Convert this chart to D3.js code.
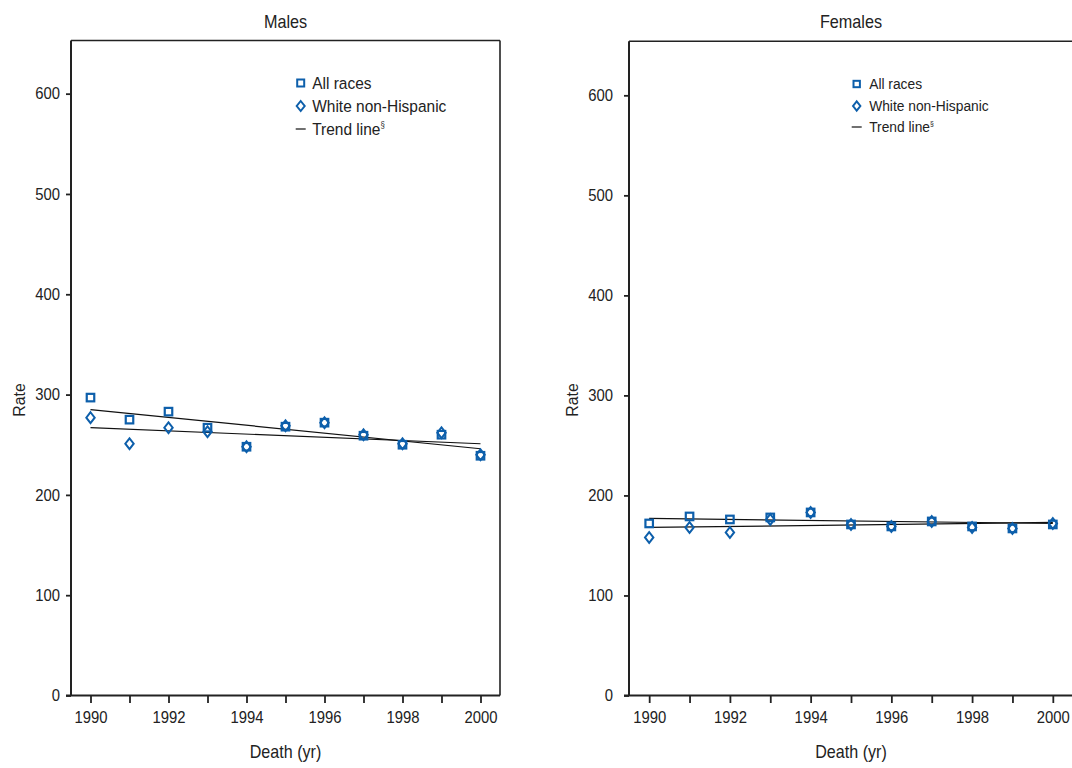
<!DOCTYPE html>
<html><head><meta charset="utf-8">
<script src="https://cdn.jsdelivr.net/npm/d3@7"></script>
<style>
body{margin:0;background:#fff;}
svg text{font-family:"Liberation Sans",Arial,Helvetica,sans-serif;fill:#222;}
</style></head>
<body><svg id="c" width="1072" height="768"></svg>
<script>
const years = [1990,1991,1992,1993,1994,1995,1996,1997,1998,1999,2000];
const yTicks = [0,100,200,300,400,500,600];
const xTickLabels = [1990,1992,1994,1996,1998,2000];

const maleAllRaces = [297,275,283,267,248,268,272,259,250,260,239];
const maleWhiteNH  = [277,251,267,263,248,269,272,260,251,262,240];
const maleTrendAll = [[1990,285],[2000,246]];
const maleTrendWhite = [[1990,267],[2000,251]];

const femaleAllRaces = [172,179,176,178,183,171,169,174,169,167,171];
const femaleWhiteNH  = [158,168,163,176,183,171,169,174,168,167,172];
const femaleTrendAll = [[1990,177],[2000,172]];
const femaleTrendWhite = [[1990,168],[2000,173]];

const legendLabels = ["All races","White non-Hispanic","Trend line"];

const blue = "#0d5fab";
const svg = d3.select("#c");

const panels = [
  {title:"Males", left:71, right:500, top:40.5, ymax:653, all:maleAllRaces, white:maleWhiteNH,
   tAll:maleTrendAll, tWhite:maleTrendWhite, legX:300.7, legFont:17, legScale:0.91, legY:[83,106,129], legTextDx:11.5, rateX:25, tickDx:0},
  {title:"Females", left:629, right:1073, top:41.3, ymax:654, all:femaleAllRaces, white:femaleWhiteNH,
   tAll:femaleTrendAll, tWhite:femaleTrendWhite, legX:856.7, legFont:15.5, legScale:0.89, legY:[84,106,127], legTextDx:12.5, rateX:578, tickDx:-5}
];

const bottom = 695.5;
const TS = 0.9; // horizontal condensation of tick labels

function label(g, x, y, size, sx, text, anchor, rot) {
  return g.append("text")
    .attr("transform", `translate(${x},${y})` + (rot ? ` rotate(${rot})` : "") + ` scale(${sx},1)`)
    .attr("text-anchor", anchor).attr("font-size", size).text(text);
}

panels.forEach(p => {
  const x = d3.scaleLinear().domain([1989.5,2000.5]).range([p.left,p.right]);
  const y = d3.scaleLinear().domain([0,p.ymax]).range([bottom,p.top]);
  const g = svg.append("g");

  g.append("line").attr("x1",p.left).attr("x2",p.right).attr("y1",p.top).attr("y2",p.top)
    .attr("stroke","#222").attr("stroke-width",1.6);
  g.append("line").attr("x1",p.right).attr("x2",p.right).attr("y1",p.top).attr("y2",bottom)
    .attr("stroke","#222").attr("stroke-width",1.6);

  const ya = g.append("g").attr("transform",`translate(${p.left},0)`)
    .call(d3.axisLeft(y).tickValues(yTicks).tickSize(5).tickPadding(6).tickFormat(d3.format("d")));
  ya.select(".domain").attr("stroke","#222").attr("stroke-width",2).attr("d",`M0,${p.top}V${bottom}`);
  ya.selectAll(".tick line").attr("stroke","#222").attr("stroke-width",1.8);
  ya.selectAll(".tick text").attr("font-size",16.5).attr("fill","#222")
    .attr("x", (-11 + p.tickDx)/TS).attr("transform",`scale(${TS},1)`);

  const xa = g.append("g").attr("transform",`translate(0,${bottom})`)
    .call(d3.axisBottom(x).tickValues(years).tickSize(7.5).tickPadding(8)
      .tickFormat(d => xTickLabels.includes(d) ? String(d) : ""));
  xa.select(".domain").attr("stroke","#222").attr("stroke-width",2).attr("d",`M${p.left-5},0H${p.right}`);
  xa.selectAll(".tick line").attr("stroke","#222").attr("stroke-width",1.8);
  xa.selectAll(".tick text").attr("font-size",16.5).attr("fill","#222").attr("transform",`scale(${TS},1)`);

  const cx = (p.left+p.right)/2;
  label(g, cx, 27.5, 18, 0.9, p.title, "middle");
  label(g, cx, 758, 17.5, 0.92, "Death (yr)", "middle");
  label(g, p.rateX, 400, 16.5, 0.96, "Rate", "middle", -90);

  const line = d3.line().x(d=>x(d[0])).y(d=>y(d[1]));
  [p.tAll,p.tWhite].forEach(t => {
    g.append("path").attr("d",line(t)).attr("fill","none").attr("stroke","#111").attr("stroke-width",1.2);
  });

  const sq = 7.5, dw = 4.2, dh = 5.4;
  g.selectAll(".sq").data(years).enter().append("rect")
    .attr("x",(d)=>x(d)-sq/2).attr("y",(d,i)=>y(p.all[i])-sq/2)
    .attr("width",sq).attr("height",sq).attr("fill","none").attr("stroke",blue).attr("stroke-width",2.2);
  g.selectAll(".dm").data(years).enter().append("path")
    .attr("d",(d,i)=>{const cx=x(d), cy=y(p.white[i]);
      return `M${cx},${cy-dh}L${cx+dw},${cy}L${cx},${cy+dh}L${cx-dw},${cy}Z`;})
    .attr("fill","none").attr("stroke",blue).attr("stroke-width",2);

  const lx = p.legX;
  const ls = p.legFont/17;
  g.append("rect").attr("x",lx-3.5*ls).attr("y",p.legY[0]-3.5*ls).attr("width",7*ls).attr("height",7*ls)
    .attr("fill","none").attr("stroke",blue).attr("stroke-width",2);
  g.append("path").attr("d",`M${lx},${p.legY[1]-5*ls}L${lx+4*ls},${p.legY[1]}L${lx},${p.legY[1]+5*ls}L${lx-4*ls},${p.legY[1]}Z`)
    .attr("fill","none").attr("stroke",blue).attr("stroke-width",2);
  g.append("line").attr("x1",lx-5).attr("x2",lx+5).attr("y1",p.legY[2]).attr("y2",p.legY[2])
    .attr("stroke","#111").attr("stroke-width",1.2);
  legendLabels.forEach((t,i) => {
    const tx = label(g, lx+p.legTextDx, p.legY[i]+6*ls, p.legFont, p.legScale, t, "start");
    if (i===2) tx.append("tspan").attr("font-size",p.legFont*0.5).attr("dy",-7*ls).text("§");
  });
});
</script></body></html>
